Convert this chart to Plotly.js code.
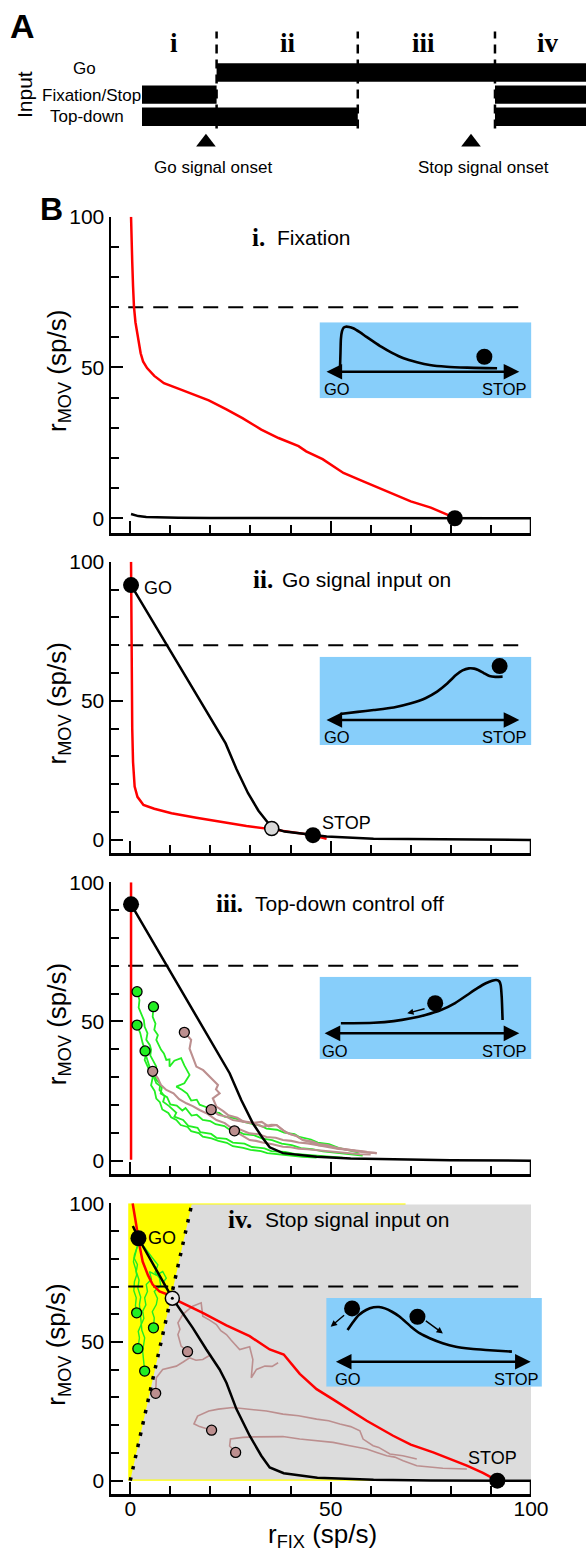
<!DOCTYPE html>
<html><head><meta charset="utf-8">
<script src="https://cdn.plot.ly/plotly-3.0.1.min.js"></script>
<style>html,body{margin:0;padding:0;background:#fff}</style>
</head><body><div id="chart" style="width:586px;height:1552px"></div>
<script>
const W=586,H=1552;
const FONT="Liberation Sans, Arial, Helvetica, sans-serif";
const SERIF="Liberation Serif, Times New Roman, serif";
const px=v=>v/W, py=v=>1-v/H;

// ---------------- Panel A data ----------------
const inputNames=['Go','Fixation/Stop','Top-down'];
const inputRows=[2,1,0];
const epochLabels=['i','ii','iii','iv'];
const epochEdges=[0,0.168,0.486,0.795,1.0];
const goOnStart=[0.168], goOnEnd=[1.0];
const fixOnStart=[0,0.795], fixOnEnd=[0.168,1.0];
const tdOnStart=[0,0.795], tdOnEnd=[0.486,1.0];
const onsetLabels=['Go signal onset','Stop signal onset'];
const onsetTimes=[0.144,0.741];

// ---------------- Panel B data ----------------
const threshold=70;
// i. Fixation
const p1RedX=[0.2,0.3,0.5,0.7,0.93,1.3,1.7,2.1,2.6,3.2,4.2,6,8.4,12,16,19.6,24,28,32.7,37,42,43.9,48,53.2,58,64,70,75,81];
const p1RedY=[100,92,85,77,70.2,65,61.3,57.7,54.7,52,49.8,47.2,44.8,43,41,39.1,36.1,33.2,29.4,26.6,23.9,22.2,19.6,15,12.3,9,5.6,3.5,0.1];
const p1BlkX=[0.2,1,2,4,7,12,20,35,60,100];
const p1BlkY=[1.4,1.0,0.7,0.4,0.25,0.12,0.05,0.02,0,0];
const p1DotX=[81], p1DotY=[0];
// ii. Go signal input on
const p2RedX=[0.2,0.25,0.35,0.5,0.7,0.9,1.1,1.8,3.3,6,10.3,16.5,23.4,29,35.5,40,45.3,49];
const p2RedY=[100,80,60,40,28,22,19.2,15.5,12.6,11.2,9.6,8,6.2,5,3.8,2.9,1.8,0.4];
const p2BlkX=[0.2,23.8,26.5,29.4,32,35.3,38.5,42,49,60.7,80,100];
const p2BlkY=[91.6,34.7,25.5,16.8,10.5,4.5,3,2.4,1.2,0.4,0.1,0];
const p2DotX=[0.2,45.6], p2DotY=[91.6,1.7];
const p2MidX=[35.3], p2MidY=[4.1];
// iii. Top-down control off
const p3RedX=[0.2,0.2], p3RedY=[100,0.3];
const p3BlkX=[0.2,22.7,24.8,27.7,30.6,33.1,34.8,38.1,46.5,55,67,80,100];
const p3BlkY=[92.1,36.2,31.4,21.8,13.4,8,4.8,2.7,1.4,0.8,0.4,0.15,0];
const p3DotX=[0.2], p3DotY=[92.1];
const p3GreenTraj=[
 [[1.7,60.7],[2.3,57.7],[2.1,55],[2.7,52.9],[3.4,50.5],[3.6,48.1],[4.3,45.8],[4.0,43.4],[4.9,41.5],[5.2,39.8],[5.0,37.8],[5.6,36.2],[6.5,33.8],[6.0,31.5],[6.5,29],[7.5,27.6],[7.3,25.4],[8.6,23.1],[8.2,21.2],[9.7,19.6],[11.5,17.2],[11,15.8],[13.2,14.6],[14.5,12.5],[16.8,11.8],[17.5,10.2],[20.2,9.6],[21.5,8.2],[24,7.8],[25.6,6.5],[28.5,6.1],[30.4,4.9],[33.5,4.4],[35.2,3.4],[38.6,3.1],[41,2.4],[44.5,2.0],[47.3,1.5],[50.5,1.3],[53,1.1]],
 [[5.8,55.3],[5.6,51.7],[6.3,49.2],[6.0,47],[6.9,45.1],[6.5,43.4],[7.7,39.8],[8.4,38.5],[9,36.2],[9.8,36.4],[9.8,33.8],[11,35.9],[12.7,36.8],[13.5,34.2],[14.8,30.8],[13.5,27.8],[11.5,26.6],[12.9,25.5],[14.2,24.1],[15.2,21.6],[16.6,21.9],[17.3,20.1],[19.2,19.1],[20.5,17.4],[22.2,17.2],[23.5,15.8],[26.3,15.2],[27.9,14.1],[30.4,13.2],[32.5,12.6],[34,11.5],[36.6,11.1],[38.4,10.1],[41,9.5],[42.2,8.5],[45.1,7.6],[46.8,6.5],[49.6,5.9],[52,4.6],[54.5,3.8],[57,2.9]],
 [[1.7,48.7],[2.5,45.8],[3.1,42.2],[4.0,38.6],[3.6,36.2],[4.8,32.6],[5.6,29.8],[5.2,27.1],[6.1,25],[6.5,22.3],[7.4,21],[8,18.4],[9.5,17.1],[10.2,15.6],[11.5,14.6],[12.6,12.8],[14.3,12.1],[15.2,10.6],[17.1,9.9],[18.1,8.6],[20.3,8.0],[22,7.1],[24.1,6.4],[25.6,5.2],[28.2,4.6],[30,3.9],[32.6,3.4],[34.2,2.7],[37.5,2.2],[40,1.7],[43,1.4],[46.5,1.1]],
 [[3.7,39.4],[4,37.4],[4.8,33.8],[5.6,30.8],[6.5,27.8],[7.9,26.4],[7.6,24.1],[9.2,22.8],[10,20.2],[11.6,19.8],[13,18],[13.8,18.9],[15.3,16.2],[16.6,16.5],[18.1,14.6],[20,14.2],[21.3,13.1],[23.5,12.4],[24.6,11.3],[26.8,10.6],[28.4,9.5],[30.7,9.2],[33,7.9],[35.4,7.4],[37.8,6.1],[40.3,5.6],[42.6,4.5],[45.4,4.1],[48.1,3.3],[51,2.9],[54.7,2.3],[58,1.8]]
];
const p3BrownTraj=[
 [[13.5,46.1],[15.2,43.4],[14.8,40.2],[15.6,37.4],[16.5,33.8],[18.2,32.5],[19.8,30.2],[21.9,27.2],[21.4,25.6],[22.3,24.2],[20.6,22.4],[21.5,19.4],[23.2,17.8],[24.5,16.3],[26.7,15.4],[28.2,14.1],[30.6,13.6],[33,12.2],[35.2,12.9],[36.5,12.8],[38.2,10.8],[40,9.5],[41.5,8.9],[43.1,7.4],[45.5,6.9],[47,6],[49.2,5.6],[51.5,4.5],[54,4.1],[56,3.5],[58.7,3.1],[61.5,2.7]],
 [[5.6,32.1],[6.9,29.6],[7.6,27.3],[9,25.4],[10.8,24.2],[12.2,22.1],[14,20.6],[15.6,19.6],[17.3,18.2],[19.3,16.8],[21.5,14.6],[23.6,13.5],[25,12],[27.4,11.2],[29.8,9.8],[32,9.5],[34,8.5],[36.3,8.2],[38.1,7.4],[40.2,7.1],[42,6.5],[44.3,6.2],[46.5,5.6],[49.3,4.8],[52,4.2],[55.3,3.8],[59,3.2]],
 [[20.2,18.3],[22,16.5],[23.8,15.9],[25.6,14.6],[27.5,14.2],[30,13.5],[32.8,13.9],[34.5,12.3],[36.5,12.8],[37.8,11.2],[39,10],[41.4,8.9],[43.1,7.4],[45.2,6.6],[47,5.5],[49.6,5.2],[51.5,4.5],[53.8,3.9],[56,3.5],[58.5,3],[61.5,2.7]],
 [[26,10.7],[28,9],[29.8,7.4],[31.4,7.1],[33,6.5],[35.5,5.9],[38.1,5],[40.1,4.8],[42,4.3],[44.2,4.1],[46.5,3.8],[48.3,3.3],[50,3.2],[52.4,2.8],[54.8,2.7],[57.3,2.3],[60,2.2]]
];
// iv. Stop signal input on
const p4RedX=[0.6,1.0,1.5,2.3,3.1,4.4,5.6,7.3,9.4,10.5,13.1,18.1,24,29.8,34.8,38.3,42.3,46.5,50.6,55,59,65.6,70,75.6,80,84,88,91.6];
const p4RedY=[100,96,92.2,85,79,74.2,70.7,68.2,67.1,65.8,64,60.5,56,52.1,47.3,45.5,38.5,33,29.3,25.2,21.6,16.2,13,10.2,7.7,5.4,2.8,0];
const p4BlkX=[0.65,2.05,10.5,15.6,19,22.3,24,25.2,26.5,29.8,32.7,34.8,38.3,46.7,60.7,75,100];
const p4BlkY=[91.8,87.4,65.8,55.1,47.3,40.1,35.3,31,25.8,16.2,9,4.8,2.7,1.1,0.3,0.1,0];
const p4DotX=[2.05,91.6], p4DotY=[87.4,0];
const p4MidX=[10.5], p4MidY=[65.8];
const p4BoundX=[0,15.4], p4BoundY=[0,100];
const p4GreenTraj=[
 [[1.6,60.5],[1.3,63.2],[1.5,65.9],[0.9,68.5],[1.05,71.8],[1.6,74.2],[1.3,76.6],[0.8,78.9],[1.05,81.4],[1.4,82.6],[1.8,84.5]],
 [[5.8,55.1],[6,58.7],[5.5,60.9],[6.5,63.5],[6.8,65.7],[6,68.2],[7.6,70.4],[7.3,73],[6.2,75.1],[6.9,77.8],[5.6,80.2],[4.4,82.6],[3.1,85]],
 [[1.9,47.6],[2.3,51.5],[2.0,53.8],[2.7,56.3],[3.4,58.5],[3.1,61.1],[3.9,63.4],[3.6,65.9],[4.3,68.2],[4.0,70.7],[5.3,72.6],[4.8,75.4],[6.5,74.1],[8.1,75.4],[9,73],[8.2,71.5],[8.8,69.4]],
 [[3.6,39.5],[3.3,43.1],[3.1,46.7],[3.6,51.5],[2.9,54.2],[2.7,57.5],[2.5,60.1],[2.3,63.5],[2.6,66.2],[1.9,69.4],[2.2,72.3],[1.5,75.4],[1.8,77.9],[1,80.2],[1.5,83],[2,86]]
];
const p4BrownTraj=[
 [[14.3,46.5],[12.7,48.5],[11.9,52.7],[12.4,54.6],[11.9,56.9],[13.1,59.9],[14.2,61.3],[15.6,62.9],[17.7,64.1],[18.1,59.3],[19.8,57.9],[21.5,56.3],[22.6,54.1],[24,52.7],[25.2,50.6],[27.3,47.3],[29.8,48.3],[30.6,43.7],[30.2,37.1],[31.5,40.1],[33.6,41.3],[35.4,41.2],[36.9,42.5]],
 [[6.35,31.5],[6.5,35],[6.5,37.1],[8.1,40.1],[11.5,41.3],[13.2,42.8],[14.8,44.3],[16.4,43.4],[18.1,43.7],[20.2,45.5]],
 [[20.3,18.2],[17.3,19.5],[15.9,20.5],[16.8,23.3],[19.6,25.1],[22,25.8],[25.6,26.4],[29.8,25.8],[34,25.1],[38.1,24],[42,23.4],[46.5,22.2],[49.5,21.6],[52.3,20.4],[55,19.5],[57.3,18],[58.1,15],[60.6,12.6],[62,12],[64.8,9.6],[68,9],[71.5,7.8]],
 [[26.3,10.2],[24.8,12.5],[25,15],[28.1,15.6],[31,15.8],[34,15.9],[38.1,15.9],[42.3,15],[46,14.5],[50.6,13.8],[54.8,12.6],[59,11.4],[61.5,10.2],[64,9],[66,8.5],[68.1,7.2],[71.5,5.4],[75,5],[78,4.5],[84,4.2]]
];
// Insets (schematic energy landscapes, box-relative units 0..1)
const in1X=[0.097,0.099,0.101,0.106,0.114,0.124,0.14,0.159,0.19,0.22,0.255,0.291,0.34,0.397,0.46,0.52,0.6,0.697,0.838];
const in1Y=[0.416,0.6,0.78,0.88,0.93,0.942,0.938,0.921,0.87,0.811,0.745,0.679,0.6,0.526,0.475,0.438,0.415,0.403,0.395];
const in1BallX=[0.778], in1BallY=[0.547];
const in2X=[0.097,0.18,0.256,0.35,0.432,0.5,0.555,0.6,0.644,0.675,0.705,0.73,0.749,0.775,0.802,0.83,0.864];
const in2Y=[0.351,0.375,0.396,0.425,0.472,0.53,0.604,0.69,0.792,0.845,0.868,0.865,0.849,0.815,0.781,0.772,0.774];
const in2BallX=[0.85], in2BallY=[0.894];
const in3X=[0.101,0.256,0.35,0.432,0.5,0.573,0.64,0.697,0.745,0.785,0.815,0.834,0.848,0.855,0.86,0.864];
const in3Y=[0.434,0.441,0.46,0.494,0.535,0.595,0.68,0.778,0.86,0.92,0.952,0.96,0.945,0.9,0.75,0.474];
const in3BallX=[0.546], in3BallY=[0.677];
const in4X=[0.099,0.125,0.151,0.185,0.22,0.245,0.272,0.305,0.341,0.393,0.435,0.48,0.54,0.601,0.67,0.74,0.861];
const in4Y=[0.639,0.73,0.808,0.865,0.895,0.898,0.883,0.845,0.789,0.677,0.6,0.546,0.49,0.451,0.428,0.414,0.395];
const in4BallX=[0.12,0.423], in4BallY=[0.883,0.789];

// ---------------- build ----------------
const traces=[];
const shapes=[];
const ann=[];
const BLACK='#000';
const RED='#ff0000';
const GREEN='#22ee22';
const BROWN='#bc8f8f';

// Panel A bars
const barY=[],barBase=[],barLen=[];
[[goOnStart,goOnEnd],[fixOnStart,fixOnEnd],[tdOnStart,tdOnEnd]].forEach((p,i)=>{
  p[0].forEach((s,j)=>{barY.push(inputRows[i]);barBase.push(s);barLen.push(p[1][j]-s);});
});
traces.push({type:'bar',orientation:'h',x:barLen,base:barBase,y:barY,width:0.83,
  marker:{color:BLACK,line:{width:0}},xaxis:'x5',yaxis:'y5',hoverinfo:'skip'});
traces.push({type:'scatter',mode:'markers',x:onsetTimes,y:onsetTimes.map(()=>-1.15),xaxis:'x5',yaxis:'y5',
  cliponaxis:false,marker:{symbol:'triangle-up',size:17,color:BLACK,line:{width:0}},hoverinfo:'skip'});
epochEdges.slice(1,4).forEach(e=>{
  shapes.push({type:'line',xref:'x5',yref:'paper',x0:e,x1:e,y0:py(128.5),y1:py(31.5),
    line:{color:BLACK,width:2.5,dash:'9px,6px'}});
});
const epochLabelPx=[174,288,423,548];
epochLabels.forEach((t,i)=>ann.push({xref:'paper',yref:'paper',x:px(epochLabelPx[i]),y:py(43),text:'<b>'+t+'</b>',
  showarrow:false,font:{family:SERIF,size:27,color:BLACK},xanchor:'center',yanchor:'middle'}));
const onsetLabelPx=[213,483];
onsetLabels.forEach((t,i)=>ann.push({xref:'paper',yref:'paper',x:px(onsetLabelPx[i]),y:py(167),text:t,
  showarrow:false,font:{family:FONT,size:17,color:BLACK},xanchor:'center',yanchor:'middle'}));
ann.push({xref:'paper',yref:'paper',x:px(84),y:py(69),text:inputNames[0],showarrow:false,font:{family:FONT,size:17},xanchor:'center',yanchor:'middle'});
ann.push({xref:'paper',yref:'paper',x:px(143),y:py(95),text:inputNames[1],showarrow:false,font:{family:FONT,size:17},xanchor:'right',yanchor:'middle'});
ann.push({xref:'paper',yref:'paper',x:px(87),y:py(117),text:inputNames[2],showarrow:false,font:{family:FONT,size:17},xanchor:'center',yanchor:'middle'});
ann.push({xref:'paper',yref:'paper',x:px(24),y:py(95),text:'Input',textangle:-90,showarrow:false,font:{family:FONT,size:21},xanchor:'center',yanchor:'middle'});
ann.push({xref:'paper',yref:'paper',x:px(22),y:py(26),text:'<b>A</b>',showarrow:false,font:{family:FONT,size:34},xanchor:'center',yanchor:'middle'});
ann.push({xref:'paper',yref:'paper',x:px(51),y:py(209),text:'<b>B</b>',showarrow:false,font:{family:FONT,size:32},xanchor:'center',yanchor:'middle'});

// Panel B layout
const panels=[
 {top:216.7,bot:533.3,ymin:-5},
 {top:561.7,bot:853.3,ymin:-4.8},
 {top:882.3,bot:1174,ymin:-4.8},
 {top:1203.3,bot:1494,ymin:-4.8}];
const titles=[['i.','Fixation',267,275,237],['ii.','Go signal input on',275,280,579],
  ['iii.','Top-down control off',245,253,903],['iv.','Stop signal input on',254,263,1219]];
const layout={width:W,height:H,margin:{l:0,r:0,t:0,b:0},paper_bgcolor:'#fff',plot_bgcolor:'rgba(0,0,0,0)',
  showlegend:false,barmode:'overlay',font:{family:FONT,color:BLACK}};
const suf=k=>k===1?'':String(k);
panels.forEach((p,i)=>{
  const k=i+1;
  layout['xaxis'+suf(k)]={domain:[px(111),px(531)],range:[-4.8,100],anchor:'y'+suf(k),
    showline:true,linewidth:2.5,linecolor:BLACK,ticks:'inside',tickmode:'linear',tick0:0,dtick:50,
    ticklen:12,tickwidth:2,tickcolor:BLACK,showticklabels:k===4,tickfont:{size:21,family:FONT,color:BLACK},
    ticklabelstandoff:-6,
    minor:{dtick:10,tick0:0,ticks:'inside',ticklen:8,tickwidth:2,tickcolor:BLACK,showgrid:false},
    showgrid:false,zeroline:false,fixedrange:true};
  layout['yaxis'+suf(k)]={domain:[py(p.bot),py(p.top)],range:[p.ymin,100],anchor:'x'+suf(k),
    showline:true,linewidth:2.5,linecolor:BLACK,ticks:'inside',tickmode:'linear',tick0:0,dtick:50,
    ticklen:12,tickwidth:2,tickcolor:BLACK,tickfont:{size:21,family:FONT,color:BLACK},ticklabelstandoff:0,
    minor:{dtick:10,tick0:0,ticks:'inside',ticklen:8,tickwidth:2,tickcolor:BLACK,showgrid:false},
    showgrid:false,zeroline:false,fixedrange:true};
  shapes.push({type:'line',xref:'x'+suf(k),yref:'y'+suf(k),x0:100,x1:100,y0:p.ymin,y1:0,line:{color:BLACK,width:2.5},layer:'above'});
  ann.push({xref:'paper',yref:'paper',x:px(58),y:py((p.top+p.bot)/2-4),text:'r<sub>MOV</sub> (sp/s)',textangle:-90,
    showarrow:false,font:{family:FONT,size:26},xanchor:'center',yanchor:'middle'});
  const t=titles[i];
  ann.push({xref:'paper',yref:'paper',x:px(t[2]),y:py(t[4]),text:'<b>'+t[0]+'</b>',showarrow:false,
    font:{family:SERIF,size:25},xanchor:'right',yanchor:'middle'});
  ann.push({xref:'paper',yref:'paper',x:px(t[3]),y:py(t[4]),text:t[1],showarrow:false,
    font:{family:FONT,size:21},xanchor:'left',yanchor:'middle'});
});
ann.push({xref:'paper',yref:'paper',x:px(322),y:py(1535),text:'r<sub>FIX</sub> (sp/s)',showarrow:false,
  font:{family:FONT,size:26},xanchor:'center',yanchor:'middle'});

// Panel A axes (range extended downward so the onset markers sit inside it)
layout.xaxis5={domain:[px(142),1],range:[0,1],visible:false,fixedrange:true,anchor:'y5'};
layout.yaxis5={domain:[py(152.1),py(61.4)],range:[-1.6,2.5],visible:false,fixedrange:true,anchor:'x5'};

function ax(k){return {x:'x'+suf(k),y:'y'+suf(k)};}
function line(k,X,Y,color,width,extra){const a=ax(k);traces.push(Object.assign({type:'scatter',mode:'lines',x:X,y:Y,xaxis:a.x,yaxis:a.y,
  line:{color:color,width:width},hoverinfo:'skip'},extra||{}));}
function dots(k,X,Y,fill,size,lw,extra){const a=ax(k);traces.push(Object.assign({type:'scatter',mode:'markers',x:X,y:Y,xaxis:a.x,yaxis:a.y,
  cliponaxis:false,marker:{color:fill,size:size,line:{color:BLACK,width:lw}},hoverinfo:'skip'},extra||{}));}
function thresh(k){line(k,[-0.5,98],[threshold,threshold],BLACK,2,{line:{color:BLACK,width:2,dash:'15px,10px'}});}
function traj(k,list,color,w){list.forEach(tr=>line(k,tr.map(p=>p[0]),tr.map(p=>p[1]),color,w));}

// Panel iv regions
shapes.push({type:'rect',xref:'x4',yref:'y4',x0:-0.5,x1:68.7,y0:0,y1:100,fillcolor:'#ffff00',line:{width:0},layer:'below'});
shapes.push({type:'path',xref:'x4',yref:'y4',
  path:`M${p4BoundX[0]+0.06},0.45 L${p4BoundX[1]-0.07},99.55 L100,99.55 L100,0.45 Z`,
  fillcolor:'#dcdcdc',line:{width:0},layer:'below'});

// i
thresh(1);
line(1,p1RedX,p1RedY,RED,2.5);
line(1,p1BlkX,p1BlkY,BLACK,2.5);
dots(1,p1DotX,p1DotY,BLACK,16,0);
// ii
thresh(2);
line(2,p2RedX,p2RedY,RED,2.5);
line(2,p2BlkX,p2BlkY,BLACK,2.5);
dots(2,p2MidX,p2MidY,'#d9d9d9',14,1.5);
dots(2,p2DotX,p2DotY,BLACK,16,0);
ann.push({xref:'x2',yref:'y2',x:7,y:90.5,text:'GO',showarrow:false,font:{family:FONT,size:18},xanchor:'center',yanchor:'middle'});
ann.push({xref:'x2',yref:'y2',x:54,y:6,text:'STOP',showarrow:false,font:{family:FONT,size:18},xanchor:'center',yanchor:'middle'});
// iii
thresh(3);
traj(3,p3GreenTraj,GREEN,1.8);
traj(3,p3BrownTraj,BROWN,2.1);
line(3,p3RedX,p3RedY,RED,2.5);
line(3,p3BlkX,p3BlkY,BLACK,2.5);
dots(3,p3GreenTraj.map(t=>t[0][0]),p3GreenTraj.map(t=>t[0][1]),GREEN,10,1.3);
dots(3,p3BrownTraj.map(t=>t[0][0]),p3BrownTraj.map(t=>t[0][1]),BROWN,10,1.3);
dots(3,p3DotX,p3DotY,BLACK,16,0);
// iv
traj(4,p4BrownTraj,BROWN,1.6);
traj(4,p4GreenTraj,GREEN,1.4);
line(4,p4BoundX,p4BoundY,BLACK,3.5,{line:{color:BLACK,width:3.5,dash:'3.5px,8px'}});
thresh(4);
line(4,p4RedX,p4RedY,RED,2.5);
line(4,p4BlkX,p4BlkY,BLACK,2.5);
dots(4,p4GreenTraj.map(t=>t[0][0]),p4GreenTraj.map(t=>t[0][1]),GREEN,10,1.3);
dots(4,p4BrownTraj.map(t=>t[0][0]),p4BrownTraj.map(t=>t[0][1]),BROWN,10,1.3);
dots(4,p4MidX,p4MidY,'#e6e6e6',14,1.5);
dots(4,p4MidX,p4MidY,BLACK,3,0);
dots(4,p4DotX,p4DotY,BLACK,16,0);
ann.push({xref:'x4',yref:'y4',x:7.8,y:87.4,text:'GO',showarrow:false,font:{family:FONT,size:18},xanchor:'center',yanchor:'middle'});
ann.push({xref:'x4',yref:'y4',x:90.4,y:8,text:'STOP',showarrow:false,font:{family:FONT,size:18},xanchor:'center',yanchor:'middle'});

// Insets
const insets=[
 {k:6,x0:319.5,x1:531.4,y0:322.3,y1:398.3,cx:in1X,cy:in1Y,bx:in1BallX,by:in1BallY,ay:0.35,ax0:0.026,ax1:0.943,ty:0.118,gx:0.083,sx:0.873},
 {k:7,x0:319.5,x1:531.4,y0:656.7,y1:745,cx:in2X,cy:in2Y,bx:in2BallX,by:in2BallY,ay:0.283,ax0:0.026,ax1:0.943,ty:0.094,gx:0.083,sx:0.873},
 {k:8,x0:319.5,x1:531.4,y0:976.7,y1:1059,cx:in3X,cy:in3Y,bx:in3BallX,by:in3BallY,ay:0.312,ax0:0.017,ax1:0.943,ty:0.097,gx:0.073,sx:0.875},
 {k:9,x0:326.2,x1:541.9,y0:1298,y1:1386.7,cx:in4X,cy:in4Y,bx:in4BallX,by:in4BallY,ay:0.282,ax0:0.038,ax1:0.948,ty:0.083,gx:0.099,sx:0.882}];
insets.forEach(s=>{
  const k=s.k;
  layout['xaxis'+k]={domain:[px(s.x0),px(s.x1)],range:[0,1],visible:false,fixedrange:true,anchor:'y'+k};
  layout['yaxis'+k]={domain:[py(s.y1),py(s.y0)],range:[0,1],visible:false,fixedrange:true,anchor:'x'+k};
  shapes.push({type:'rect',xref:'x'+k,yref:'y'+k,x0:0,x1:1,y0:0,y1:1,fillcolor:'#87cefa',line:{width:0},layer:'below'});
  traces.push({type:'scatter',mode:'lines',x:s.cx,y:s.cy,xaxis:'x'+k,yaxis:'y'+k,line:{color:BLACK,width:2.6,shape:'spline',smoothing:0.6},hoverinfo:'skip'});
  traces.push({type:'scatter',mode:'markers',x:s.bx,y:s.by,xaxis:'x'+k,yaxis:'y'+k,cliponaxis:false,marker:{color:BLACK,size:16},hoverinfo:'skip'});
  ann.push({xref:'x'+k,yref:'y'+k,axref:'x'+k,ayref:'y'+k,x:s.ax1,y:s.ay,ax:s.ax0,ay:s.ay,text:'',showarrow:true,
    arrowhead:2,startarrowhead:2,arrowside:'end+start',arrowsize:1.25,startarrowsize:1.25,arrowwidth:2.5,arrowcolor:BLACK,standoff:0,startstandoff:0});
  ann.push({xref:'x'+k,yref:'y'+k,x:s.gx,y:s.ty,text:'GO',showarrow:false,font:{family:FONT,size:16.5},xanchor:'center',yanchor:'middle'});
  ann.push({xref:'x'+k,yref:'y'+k,x:s.sx,y:s.ty,text:'STOP',showarrow:false,font:{family:FONT,size:16.5},xanchor:'center',yanchor:'middle'});
});
function smallArrow(k,x0,y0,x1,y1){ann.push({xref:'x'+k,yref:'y'+k,axref:'x'+k,ayref:'y'+k,x:x1,y:y1,ax:x0,ay:y0,text:'',showarrow:true,
  arrowhead:2,arrowsize:0.9,arrowwidth:1.4,arrowcolor:BLACK,standoff:0});}
smallArrow(8,0.503,0.616,0.414,0.555);
smallArrow(9,0.09,0.82,0.021,0.677);
smallArrow(9,0.455,0.755,0.541,0.601);

layout.shapes=shapes;
layout.annotations=ann;
Plotly.newPlot('chart',traces,layout,{displayModeBar:false,staticPlot:true});
</script></body></html>
